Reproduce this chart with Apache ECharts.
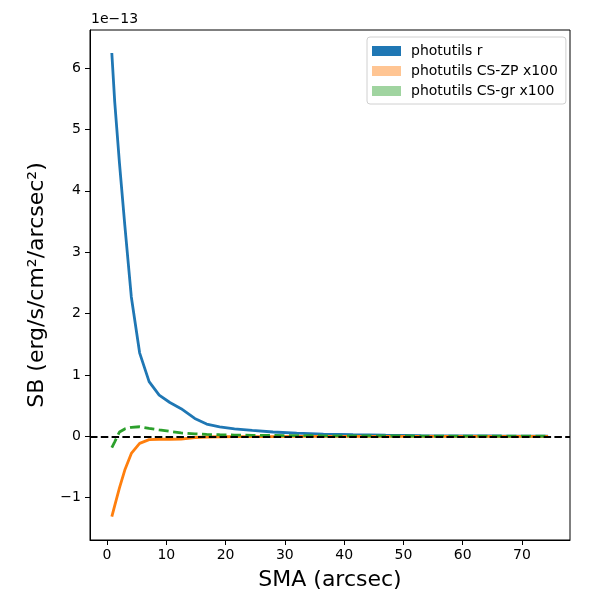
<!DOCTYPE html>
<html>
<head>
<meta charset="utf-8">
<script src="https://cdn.jsdelivr.net/npm/echarts@6/dist/echarts.min.js"></script>
<style>
  html, body { margin: 0; padding: 0; background: #fff; }
  #chart { width: 600px; height: 600px; }
</style>
</head>
<body>
<div id="chart"></div>
<script>
// semi-major axis (arcsec)
var sma = [0.81, 1.3, 2.1, 3.0, 4.1, 5.5, 7.1, 8.8, 10.6, 12.5, 14.8, 16.8,
  19.0, 21.5, 24.5, 28, 32, 36.5, 41.5, 47, 53, 59.5, 66.5, 74.4];

// surface brightness, units of 1e-13
var sbR = [6.245, 5.45, 4.45, 3.44, 2.27, 1.36, 0.89, 0.67, 0.55, 0.45, 0.29, 0.2,
  0.155, 0.12, 0.095, 0.07, 0.05, 0.035, 0.025, 0.017, 0.012, 0.008, 0.005, 0.003];
var sbZP = [-1.31, -1.13, -0.84, -0.55, -0.28, -0.115, -0.055, -0.048, -0.048, -0.045, -0.02, -0.012,
  -0.008, -0.006, -0.005, -0.004, -0.003, -0.003, -0.002, -0.002, -0.001, -0.001, -0.001, -0.001];
var sbGR = [-0.186, -0.09, 0.07, 0.12, 0.145, 0.155, 0.13, 0.105, 0.08, 0.055, 0.04, 0.03,
  0.025, 0.02, 0.016, 0.013, 0.01, 0.008, 0.006, 0.005, 0.004, 0.003, 0.002, 0.002];

var xTicks = [0, 10, 20, 30, 40, 50, 60, 70];
var yTicks = [-1, 0, 1, 2, 3, 4, 5, 6];
var names = ['photutils r', 'photutils CS-ZP x100', 'photutils CS-gr x100'];

function pairs(xs, ys) {
  return xs.map(function (x, i) { return [x, ys[i]]; });
}

var font = 'DejaVu Sans';
var chart = echarts.init(document.getElementById('chart'));

chart.setOption({
  animation: false,
  backgroundColor: '#fff',
  textStyle: { fontFamily: font, color: '#000' },
  grid: {
    left: 90, top: 30, width: 480, height: 510,
    show: true, borderColor: '#000', borderWidth: 1, backgroundColor: 'transparent'
  },
  legend: {
    left: 367, top: 37, orient: 'vertical',
    padding: [7, 8, 6, 5], itemGap: 6, itemWidth: 29, itemHeight: 10,
    borderColor: '#d0d0d0', borderWidth: 1, borderRadius: 3, backgroundColor: '#fff',
    textStyle: { fontFamily: font, fontSize: 14, color: '#000', lineHeight: 14, padding: [0, 0, 0, 5] },
    data: [
      { name: names[0], icon: 'rect', itemStyle: { color: '#1f77b4' } },
      { name: names[1], icon: 'rect', itemStyle: { color: '#ffc593' } },
      { name: names[2], icon: 'rect', itemStyle: { color: '#a0d4a0' } }
    ]
  },
  xAxis: {
    type: 'value', min: -2.87, max: 78.1,
    splitLine: { show: false },
    axisLine: { show: true, onZero: false, lineStyle: { color: '#000', width: 1 } },
    axisTick: { show: true, length: 5, customValues: xTicks, lineStyle: { color: '#000' } },
    axisLabel: { customValues: xTicks, margin: 8, fontSize: 14, color: '#000', fontFamily: font }
  },
  yAxis: {
    type: 'value', min: -1.69, max: 6.62,
    splitLine: { show: false },
    axisLine: { show: true, onZero: false, lineStyle: { color: '#000', width: 1 } },
    axisTick: { show: true, length: 5, customValues: yTicks, lineStyle: { color: '#000' } },
    axisLabel: {
      customValues: yTicks, margin: 9, fontSize: 14, color: '#000', fontFamily: font,
      formatter: function (v) { return v < 0 ? '\u2212' + Math.abs(v) : String(v); }
    }
  },
  graphic: [
    { type: 'text', left: 91, top: 12, style: { text: '1e\u221213', font: '14px "DejaVu Sans"', fill: '#000' } },
    { type: 'text', x: 330, y: 580, style: { text: 'SMA (arcsec)', font: '22px "DejaVu Sans"', fill: '#000', align: 'center', verticalAlign: 'middle' } },
    { type: 'text', x: 37, y: 285, rotation: Math.PI / 2,
      style: { text: 'SB (erg/s/cm\u00b2/arcsec\u00b2)', font: '22px "DejaVu Sans"', fill: '#000', align: 'center', verticalAlign: 'middle' } }
  ],
  series: [
    {
      name: names[0], type: 'line', data: pairs(sma, sbR), showSymbol: false,
      lineStyle: { color: '#1f77b4', width: 2.8 }, itemStyle: { color: '#1f77b4' }, z: 2
    },
    {
      name: names[1], type: 'line', data: pairs(sma, sbZP), showSymbol: false,
      lineStyle: { color: '#ff7f0e', width: 2.8 }, itemStyle: { color: '#ff7f0e' }, z: 3
    },
    {
      name: names[2], type: 'line', data: pairs(sma, sbGR), showSymbol: false,
      lineStyle: { color: '#2ca02c', width: 2.8, type: [10, 4.5] }, itemStyle: { color: '#2ca02c' }, z: 4,
      markLine: {
        silent: true, symbol: 'none', label: { show: false },
        lineStyle: { color: '#000', width: 2, type: [7.5, 3.3] },
        data: [{ yAxis: 0 }]
      }
    }
  ]
});
</script>
</body>
</html>
